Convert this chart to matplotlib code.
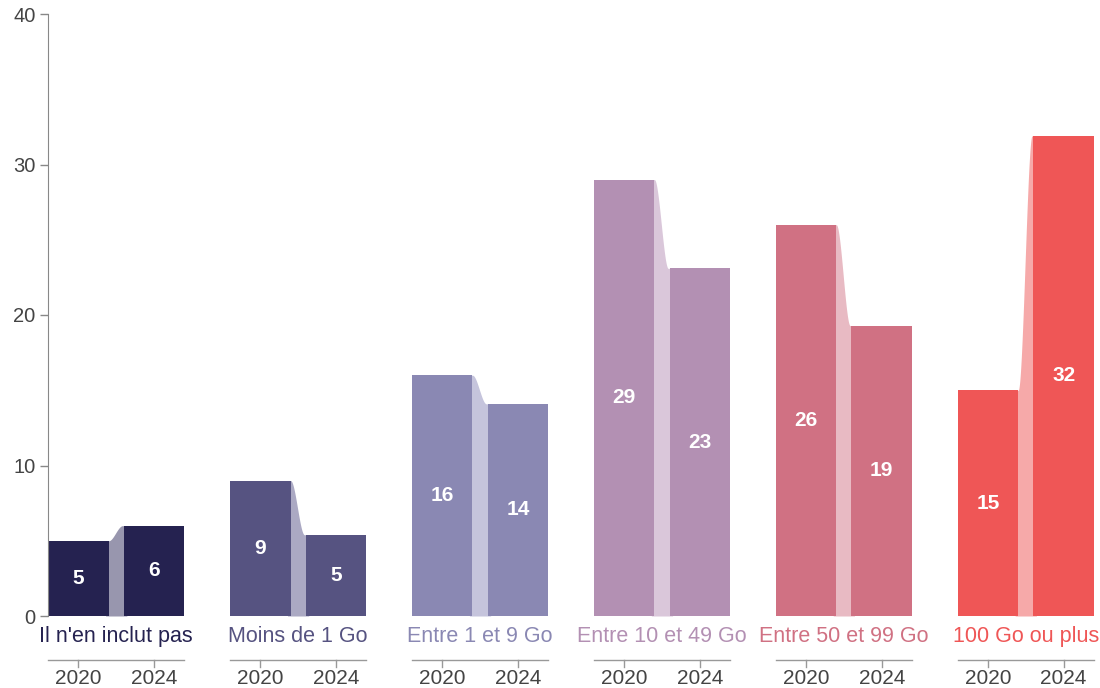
import matplotlib
matplotlib.use("Agg")
import matplotlib.pyplot as plt
import numpy as np

matplotlib.rcParams['font.family'] = ['Liberation Sans', 'DejaVu Sans']

# data
categories = ["Il n'en inclut pas", "Moins de 1 Go", "Entre 1 et 9 Go",
              "Entre 10 et 49 Go", "Entre 50 et 99 Go", "100 Go ou plus"]
years = ["2020", "2024"]
v2020 = [5.0, 9.0, 16.0, 29.0, 26.0, 15.0]
v2024 = [6.0, 5.4, 14.1, 23.1, 19.3, 31.9]
labels2020 = ["5", "9", "16", "29", "26", "15"]
labels2024 = ["6", "5", "14", "23", "19", "32"]

bar_colors = ["#252250", "#565381", "#8a88b3", "#b390b3", "#d07183", "#ef5656"]
link_colors = ["#9896ae", "#aba9c3", "#c5c4dc", "#dac7da", "#e8bac3", "#f6a9a9"]

# layout (units)
bw = 1.0
gap = 0.25
step = 3.0

fig = plt.figure(figsize=(11, 6.88), dpi=100)
ax = fig.add_axes([48 / 1100, 72 / 688, 1046 / 1100, 602 / 688])

for i, cat in enumerate(categories):
    x0 = i * step
    x1 = x0 + bw + gap
    a, b = v2020[i], v2024[i]
    # smooth connector (slightly overlapping the bars to avoid seams)
    xs = np.linspace(x0 + bw - 0.05, x1 + 0.05, 80)
    t = (xs - (x0 + bw)) / gap
    t = np.clip(t * 1.1, 0, 1)
    s = t * t * (3 - 2 * t)
    ax.fill_between(xs, 0, a + (b - a) * s, color=link_colors[i], lw=0, zorder=1)
    ax.bar([x0, x1], [a, b], width=bw, align='edge', color=bar_colors[i], lw=0, zorder=2)
    ax.text(x0 + bw / 2, a / 2, labels2020[i], ha='center', va='center',
            color='white', fontsize=15, fontweight='bold', zorder=3)
    ax.text(x1 + bw / 2, b / 2, labels2024[i], ha='center', va='center',
            color='white', fontsize=15, fontweight='bold', zorder=3)
    # category label
    ax.text(x0 + (2 * bw + gap) / 2, -1.35, cat, ha='center', va='center',
            color=bar_colors[i], fontsize=15.5, clip_on=False)
    # small year axis
    ya = -2.92
    ax.plot([x0, x1 + bw], [ya, ya], color='#999999', lw=1, clip_on=False)
    for xc, yr in zip([x0 + bw / 2, x1 + bw / 2], years):
        ax.plot([xc, xc], [ya, ya - 0.45], color='#999999', lw=1, clip_on=False)
        ax.text(xc, ya - 1.2, yr, ha='center', va='center', color='#444444',
                fontsize=15, clip_on=False)

ax.set_xlim(0, 5 * step + 2 * bw + gap)
ax.set_ylim(0, 40)
ax.set_yticks([0, 10, 20, 30, 40])
ax.set_xticks([])
for sp in ['top', 'right', 'bottom']:
    ax.spines[sp].set_visible(False)
ax.spines['left'].set_color('#888888')
ax.tick_params(axis='y', colors='#888888', length=6, width=1, labelsize=14.5,
               labelcolor='#444444', pad=3)

plt.savefig("out.png", dpi=100)
